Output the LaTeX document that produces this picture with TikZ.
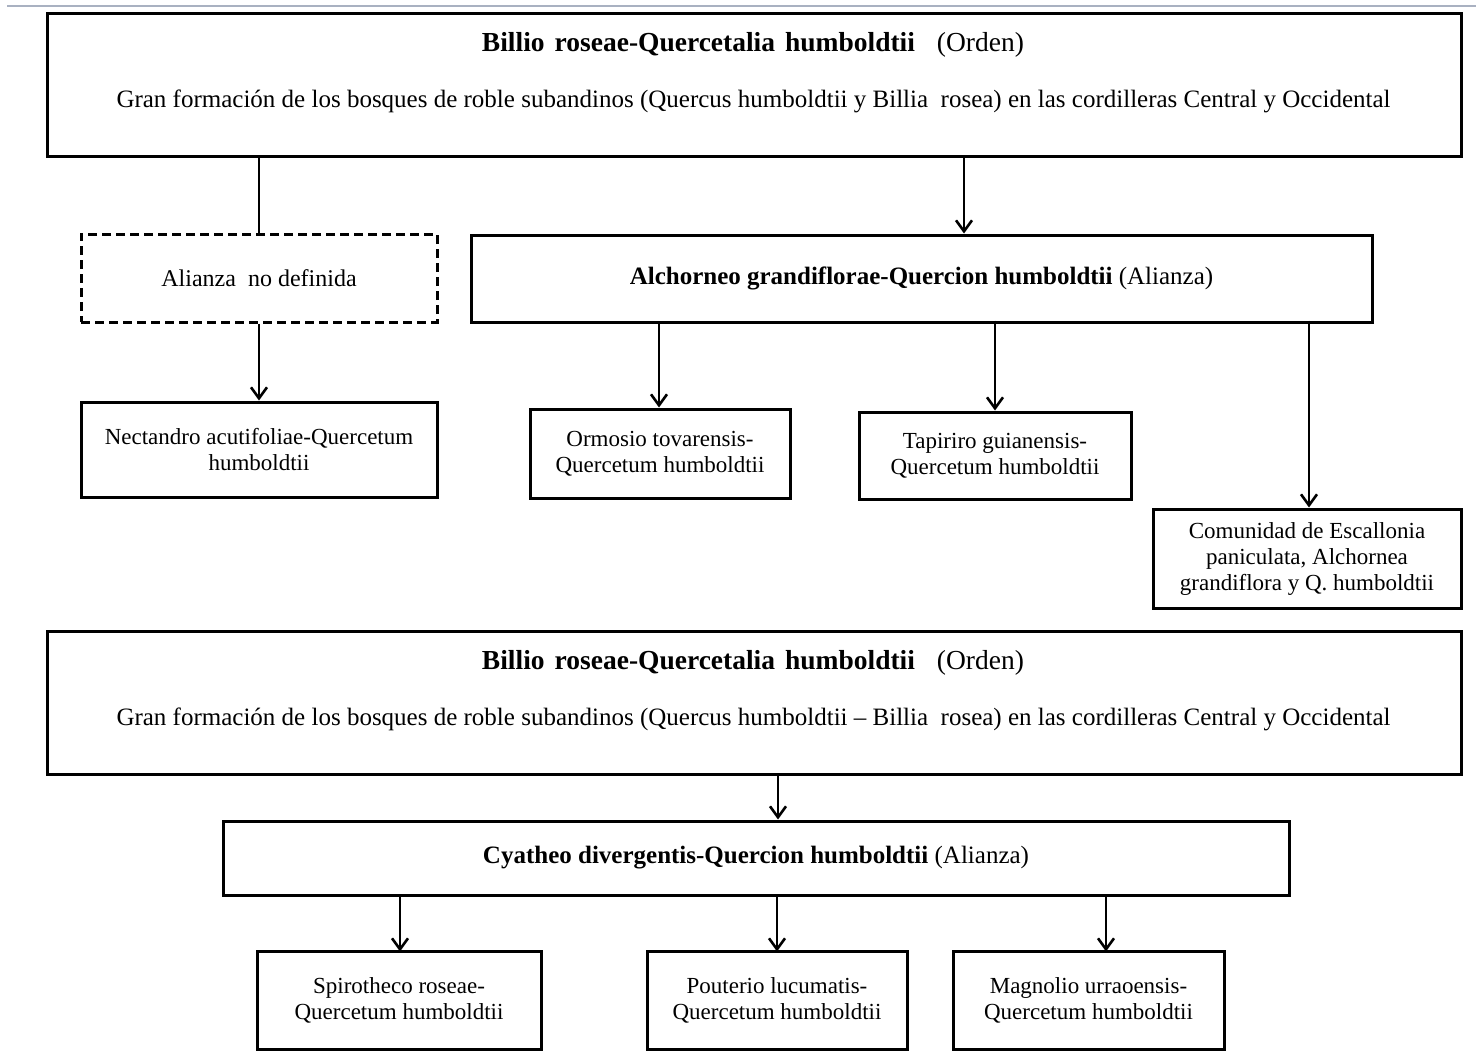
\documentclass[tikz,border=0pt]{standalone}
\usepackage{fontspec}
\setmainfont{Liberation Serif}
\usetikzlibrary{arrows.meta}
\definecolor{topline}{HTML}{A9B1C1}
\newcommand{\mytitlefont}{\fontsize{27.5}{31}\selectfont\spaceskip=10pt\relax}
\tikzset{
  box/.style={draw=black, line width=3pt, fill=white, inner sep=0pt, align=center,
    font=\fontsize{23}{26}\selectfont},
  midtext/.style={font=\fontsize{25}{28}\selectfont},
  dashbox/.style={box, dash pattern=on 9pt off 5pt, font=\fontsize{24}{28}\selectfont},
  titletext/.style={inner sep=0pt, font=\mytitlefont},
  bigtext/.style={inner sep=0pt, font=\fontsize{25}{28}\selectfont},
  conn/.style={line width=2.8pt},
  arr/.style={conn, -{Straight Barb[length=11pt,width=16pt,line width=2.6pt]}},
}
\begin{document}
\begin{tikzpicture}[x=1pt,y=-1pt]
\useasboundingbox (0,0) rectangle (1476,1052);
\draw[topline, line width=2pt] (7,5.5) -- (1476,5.5);

% boxes
\node[box, minimum width=1414pt, minimum height=143pt] (top1) at (754,84.5) {};
\node[titletext] (t1a) at (753,45) {\textbf{Billio roseae-Quercetalia humboldtii}\hspace{22pt}(Orden)};
\node[bigtext] (t1b) at (753.5,101) {Gran formación de los bosques de roble subandinos (Quercus humboldtii y Billia\ \ rosea) en las cordilleras Central y Occidental};

\node[dashbox, minimum width=356pt, minimum height=88pt] (dash) at (259,278) {Alianza\ \ no definida};
\node[box, midtext, minimum width=901pt, minimum height=87pt] (alch) at (921.5,278.5) {\textbf{Alchorneo grandiflorae-Quercion humboldtii} (Alianza)};

\node[box, minimum width=356pt, minimum height=95pt] (nect) at (259,449.5) {Nectandro acutifoliae-Quercetum\\humboldtii};
\node[box, minimum width=260pt, minimum height=89pt] (ormo) at (660,453.5) {Ormosio tovarensis-\\Quercetum humboldtii};
\node[box, minimum width=272pt, minimum height=87pt] (tapi) at (995,455.5) {Tapiriro guianensis-\\Quercetum humboldtii};
\node[box, minimum width=308pt, minimum height=99pt] (comu) at (1307,558.5) {Comunidad de Escallonia\\paniculata, Alchornea\\grandiflora y Q. humboldtii};

\node[box, minimum width=1414pt, minimum height=143pt] (top2) at (754,702.5) {};
\node[titletext] (t2a) at (753,663) {\textbf{Billio roseae-Quercetalia humboldtii}\hspace{22pt}(Orden)};
\node[bigtext] (t2b) at (753.5,719) {Gran formación de los bosques de roble subandinos (Quercus humboldtii – Billia\ \ rosea) en las cordilleras Central y Occidental};

\node[box, midtext, minimum width=1066pt, minimum height=74pt] (cyat) at (756,858) {\textbf{Cyatheo divergentis-Quercion humboldtii} (Alianza)};

\node[box, minimum width=284pt, minimum height=98pt] (spir) at (399,1000) {Spirotheco roseae-\\Quercetum humboldtii};
\node[box, minimum width=260pt, minimum height=98pt] (pout) at (777,1000) {Pouterio lucumatis-\\Quercetum humboldtii};
\node[box, minimum width=271pt, minimum height=98pt] (magn) at (1088.5,1000) {Magnolio urraoensis-\\Quercetum humboldtii};

% helper x positions
\coordinate (xa) at (964,0);
\coordinate (xb) at (659,0);
\coordinate (xc) at (1309,0);
\coordinate (xd) at (778,0);
\coordinate (xe) at (400,0);
\coordinate (xf) at (1106,0);

% connectors
\draw[conn] (top1.south -| dash.north) -- (dash.north);
\draw[arr] (top1.south -| xa) -- (alch.north -| xa);
\draw[arr] (dash.south) -- (nect.north);
\draw[arr] (alch.south -| xb) -- (ormo.north -| xb);
\draw[arr] ([yshift=3pt]alch.south -| tapi.north) -- (tapi.north);
\draw[arr] ([yshift=3pt]alch.south -| xc) -- (comu.north -| xc);
\draw[arr] (top2.south -| xd) -- (cyat.north -| xd);
\draw[arr] ([yshift=1pt]cyat.south -| xe) -- ([yshift=-2pt]spir.north -| xe);
\draw[arr] ([yshift=1pt]cyat.south -| pout.north) -- ([yshift=-2pt]pout.north);
\draw[arr] ([yshift=1pt]cyat.south -| xf) -- ([yshift=-2pt]magn.north -| xf);
\end{tikzpicture}
\end{document}
